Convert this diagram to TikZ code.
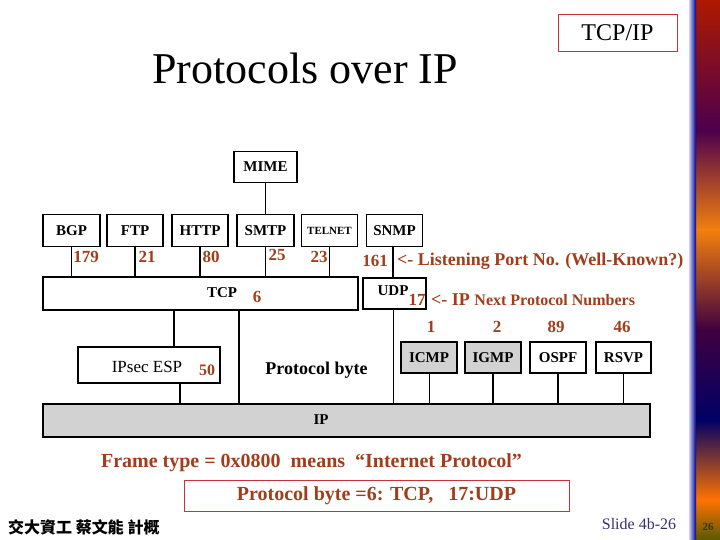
\documentclass[tikz,border=0pt]{standalone}
\usepackage{fontspec}
\setmainfont{Liberation Serif}
\newfontfamily\cjk{Noto Sans CJK TC}
\definecolor{brn}{RGB}{160,62,28}
\definecolor{redline}{RGB}{200,50,60}
\definecolor{ipgray}{RGB}{210,210,210}
\definecolor{slidenavy}{RGB}{50,50,110}
\begin{document}
\begin{tikzpicture}[x=1pt,y=-1pt,
  box/.style={draw=black,line width=1.4pt,inner sep=0pt,font=\fontsize{15}{15}\selectfont\bfseries},
  wire/.style={line width=1.4pt},
  thinwire/.style={line width=0.8pt},
  num/.style={text=brn,font=\fontsize{17}{17}\selectfont\bfseries,inner sep=0pt},
]
\useasboundingbox (0,0) rectangle (720,540);
% decorative right strip
\fill[top color=red!60!black!80!orange, bottom color=violet!60!black] (690,0) rectangle (720,130);
\fill[top color=violet!60!black, bottom color=orange!80!brown] (690,130) rectangle (720,230);
\fill[top color=orange!80!brown, bottom color=violet!50!black] (690,230) rectangle (720,330);
\fill[top color=violet!50!black, bottom color=blue!40!black] (690,330) rectangle (720,420);
\fill[top color=blue!40!black, bottom color=orange!90!red] (690,420) rectangle (720,500);
\fill[top color=orange!90!red, bottom color=olive!70!black] (690,500) rectangle (720,540);
\fill[left color=blue!20!white, right color=blue!50!black] (689,0) rectangle (696,540);
\node[font=\fontsize{11}{11}\selectfont\bfseries,text=black!80,inner sep=0pt] (pg) at (708,527) {26};

% title
\node[font=\fontsize{44}{44}\selectfont,inner sep=0pt] (title) at (305,68) {Protocols over IP};
\node[draw=redline,line width=0.8pt,minimum width=119,minimum height=37,inner sep=0pt,font=\fontsize{24}{24}\selectfont] (tcpip) at (617.5,32.5) {TCP/IP};

% application boxes
\node[box,minimum width=63,minimum height=31] (mime) at (265.5,167) {MIME};
\node[box,minimum width=57,minimum height=32] (bgp) at (71.5,230.5) {BGP};
\node[box,minimum width=56,minimum height=32] (ftp) at (135,230.5) {FTP};
\node[box,minimum width=56,minimum height=32] (http) at (200,230.5) {HTTP};
\node[box,minimum width=57,minimum height=32] (smtp) at (265.5,230.5) {SMTP};
\node[box,minimum width=56,minimum height=32,font=\fontsize{11}{11}\selectfont\bfseries] (telnet) at (329.5,230.5) {TELNET};
\node[box,minimum width=56,minimum height=32] (snmp) at (394.5,230.5) {SNMP};

% transport
\node[box,minimum width=315,minimum height=33] (tcp) at (200.5,293.5) {};
\node[font=\fontsize{15}{15}\selectfont\bfseries,inner sep=0pt] (tcpl) at (222,293) {TCP};
\node[box,minimum width=63,minimum height=31] (udp) at (394.5,293.5) {};
\node[font=\fontsize{15}{15}\selectfont\bfseries,inner sep=0pt] (udpl) at (393,291) {UDP};

% IP layer
\node[box,fill=ipgray,minimum width=607,minimum height=33] (ip) at (346.5,420.5) {};
\node[font=\fontsize{15}{15}\selectfont\bfseries,inner sep=0pt] (ipl) at (321,420) {IP};
\node[box,minimum width=142,minimum height=36] (ipsec) at (149,365) {};
\node[font=\fontsize{17}{17}\selectfont,inner sep=0pt] (ipsecl) at (147,367) {IPsec ESP};
\node[num,font=\fontsize{16}{16}\selectfont\bfseries] (n50) at (207,370) {50};
\node[box,fill=ipgray,minimum width=56,minimum height=31] (icmp) at (429,357.5) {ICMP};
\node[box,fill=ipgray,minimum width=56,minimum height=31] (igmp) at (493,357.5) {IGMP};
\node[box,minimum width=56,minimum height=31] (ospf) at (558,357.5) {OSPF};
\node[box,minimum width=55,minimum height=31] (rsvp) at (623.5,357.5) {RSVP};
\node[font=\fontsize{18}{18}\selectfont\bfseries,inner sep=0pt] (pbyte) at (316.5,370) {Protocol byte};

% connectors
\draw[wire] (mime.south) -- (smtp.north);
\draw[wire] (bgp.south) -- (bgp.south |- tcp.north);
\draw[wire] (ftp.south) -- (ftp.south |- tcp.north);
\draw[wire] (http.south) -- (http.south |- tcp.north);
\draw[wire] (smtp.south) -- (smtp.south |- tcp.north);
\draw[wire] (telnet.south) -- (telnet.south |- tcp.north);
\coordinate (ux) at (393,0);
\draw[wire] (ux |- snmp.south) -- (ux |- udp.north);
\draw[thinwire] (ux |- udp.south) -- (ux |- ip.north);
\coordinate (tx) at (239,0);
\draw[wire] (tx |- tcp.south) -- (tx |- ip.north);
\coordinate (sx1) at (174,0);
\coordinate (sx2) at (180,0);
\draw[wire] (sx1 |- tcp.south) -- (sx1 |- ipsec.north);
\draw[wire] (sx2 |- ipsec.south) -- (sx2 |- ip.north);
\draw[thinwire] (icmp.south) -- (icmp.south |- ip.north);
\draw[wire] (igmp.south) -- (igmp.south |- ip.north);
\draw[wire] (ospf.south) -- (ospf.south |- ip.north);
\draw[wire] (rsvp.south) -- (rsvp.south |- ip.north);

% numbers
\node[num] (n179) at (86,257) {179};
\node[num] (n21) at (147,257) {21};
\node[num] (n80) at (211,257) {80};
\node[num] (n25) at (277,255) {25};
\node[num] (n23) at (319,257) {23};
\node[num] (n161) at (375,261) {161};
\node[num,anchor=west,font=\fontsize{18}{18}\selectfont\bfseries] (lport) at (397,261) {<- Listening Port No. (Well-Known?)};
\node[num] (n6) at (257,297) {6};
\node[num] (n17) at (417,300) {17};
\node[num,anchor=west,font=\fontsize{18}{18}\selectfont\bfseries] (nextp) at (431,300) {<- IP {\fontsize{16}{16}\selectfont Next Protocol Numbers}};
\node[num] (n1) at (431,327) {1};
\node[num] (n2) at (497,327) {2};
\node[num] (n89) at (556,327) {89};
\node[num] (n46) at (622,327) {46};

% bottom texts
\node[num,font=\fontsize{20}{20}\selectfont\bfseries] (frame) at (311.5,463) {Frame type = 0x0800\ \ means\ \ “Internet Protocol”};
\node[draw=redline,line width=0.8pt,minimum width=385,minimum height=31,inner sep=0pt] (pbox) at (376.5,495.5) {};
\node[num,font=\fontsize{20}{20}\selectfont\bfseries] (ptext) at (376.5,496) {Protocol byte =6: TCP,\ \ \ 17:UDP};
\node[font=\fontsize{16}{16}\selectfont\cjk\bfseries,inner sep=0pt,anchor=west] (author) at (8,527) {交大資工 蔡文能 計概};
\node[font=\fontsize{16}{16}\selectfont,text=slidenavy,inner sep=0pt] (slide) at (639,524) {Slide 4b-26};
\end{tikzpicture}
\end{document}
